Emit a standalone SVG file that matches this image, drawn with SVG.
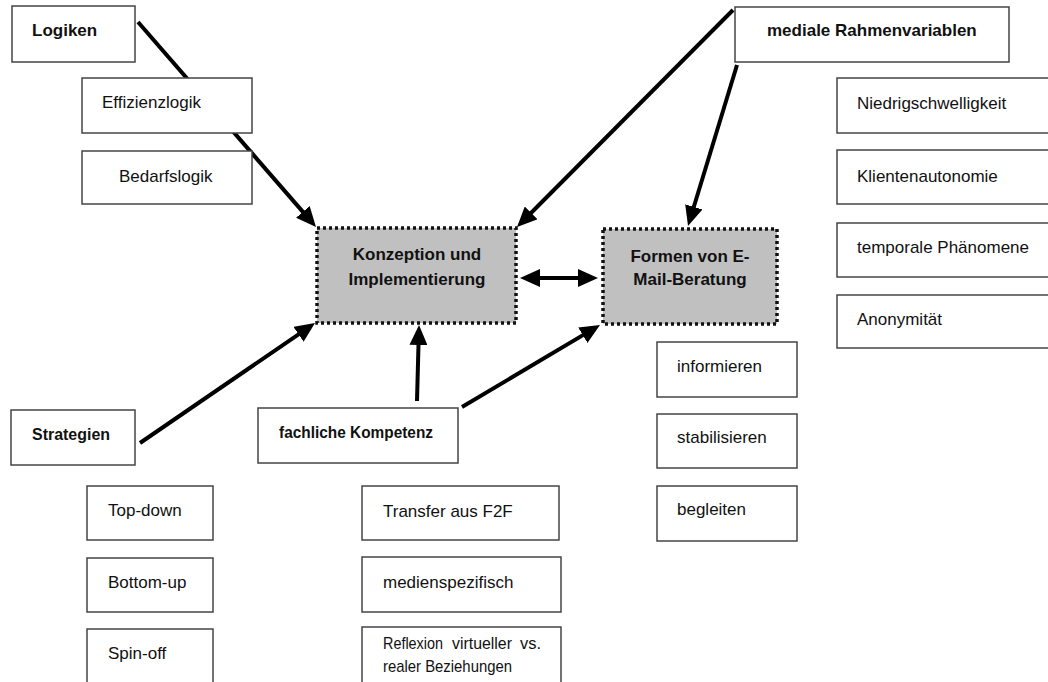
<svg xmlns="http://www.w3.org/2000/svg" width="1048" height="682" viewBox="0 0 1048 682">
<style>
text{font-family:"Liberation Sans",Arial,sans-serif;font-size:17px;fill:#111}
.b{font-weight:bold}
.box{fill:#fff;stroke:#444;stroke-width:1.5}
.core{fill:#c0c0c0;stroke:#111;stroke-width:3.5;stroke-dasharray:3 3}
.c{stroke:#000;stroke-width:4;fill:none;marker-end:url(#ah)}
</style>
<defs>
<marker id="ah" markerUnits="userSpaceOnUse" markerWidth="20" markerHeight="18" refX="8" refY="9" orient="auto-start-reverse">
<path d="M0,0 L20,9 L0,18 z" fill="#000"/>
</marker>
</defs>
<rect width="1048" height="682" fill="#fff"/>
<g id="connectors">
<line class="c" x1="138" y1="22" x2="308.1" y2="217.9"/>
<line class="c" x1="733" y1="10" x2="525.5" y2="218.5"/>
<line class="c" x1="737" y1="65" x2="691.5" y2="214.5"/>
<line class="c" x1="140" y1="443" x2="305.1" y2="329.8"/>
<line class="c" x1="417" y1="401" x2="418.7" y2="337"/>
<line class="c" x1="462" y1="407" x2="589.7" y2="331.1"/>
<line class="c" x1="532" y1="278" x2="586" y2="278" style="marker-start:url(#ah)"/>
</g>
<g id="logiken"><rect class="box" x="12" y="6" width="123" height="56"/><text class="b" x="32" y="36">Logiken</text></g>
<g id="effizienzlogik"><rect class="box" x="82" y="78" width="170" height="55"/><text x="102" y="108">Effizienzlogik</text></g>
<g id="bedarfslogik"><rect class="box" x="82" y="151" width="170" height="53"/><text x="119" y="182">Bedarfslogik</text></g>
<g id="medial"><rect class="box" x="735" y="7" width="274" height="55"/><text class="b" x="767" y="36">mediale Rahmenvariablen</text></g>
<g id="niedrig"><rect class="box" x="837" y="78" width="215" height="55"/><text x="857" y="109">Niedrigschwelligkeit</text></g>
<g id="klienten"><rect class="box" x="837" y="150" width="215" height="54"/><text x="857" y="182">Klientenautonomie</text></g>
<g id="temporal"><rect class="box" x="837" y="223" width="215" height="54"/><text x="857" y="253">temporale Phänomene</text></g>
<g id="anonym"><rect class="box" x="837" y="295" width="215" height="53"/><text x="857" y="325">Anonymität</text></g>
<g id="konzeption"><rect class="core" x="317" y="228" width="199" height="95"/><text class="b" x="417" y="260" text-anchor="middle">Konzeption und</text><text class="b" x="417" y="285" text-anchor="middle">Implementierung</text></g>
<g id="formen"><rect class="core" x="603" y="229" width="174" height="95"/><text class="b" x="690" y="262" text-anchor="middle">Formen von E-</text><text class="b" x="690" y="285" text-anchor="middle">Mail-Beratung</text></g>
<g id="informieren"><rect class="box" x="657" y="342" width="140" height="55"/><text x="677" y="372">informieren</text></g>
<g id="stabilisieren"><rect class="box" x="657" y="414" width="140" height="54"/><text x="677" y="443">stabilisieren</text></g>
<g id="begleiten"><rect class="box" x="657" y="486" width="140" height="55"/><text x="677" y="515">begleiten</text></g>
<g id="strategien"><rect class="box" x="11" y="410" width="124" height="55"/><text class="b" x="32" y="440" textLength="78" lengthAdjust="spacingAndGlyphs">Strategien</text></g>
<g id="fachlich"><rect class="box" x="258" y="408" width="200" height="55"/><text class="b" x="279" y="438" textLength="154" lengthAdjust="spacingAndGlyphs">fachliche Kompetenz</text></g>
<g id="topdown"><rect class="box" x="87" y="486" width="126" height="54"/><text x="108" y="516">Top-down</text></g>
<g id="bottomup"><rect class="box" x="87" y="558" width="126" height="54"/><text x="108" y="588">Bottom-up</text></g>
<g id="spinoff"><rect class="box" x="87" y="629" width="126" height="60"/><text x="108" y="659">Spin-off</text></g>
<g id="transfer"><rect class="box" x="362" y="486" width="197" height="54"/><text x="383" y="517">Transfer aus F2F</text></g>
<g id="medienspez"><rect class="box" x="362" y="557" width="199" height="55"/><text x="383" y="588">medienspezifisch</text></g>
<g id="reflexion"><rect class="box" x="362" y="627" width="199" height="62"/><text y="649"><tspan x="383" textLength="60" lengthAdjust="spacingAndGlyphs">Reflexion</tspan> <tspan x="452" textLength="60" lengthAdjust="spacingAndGlyphs">virtueller</tspan> <tspan x="520" textLength="21" lengthAdjust="spacingAndGlyphs">vs.</tspan></text><text x="383" y="672" textLength="129" lengthAdjust="spacingAndGlyphs">realer Beziehungen</text></g>
</svg>
